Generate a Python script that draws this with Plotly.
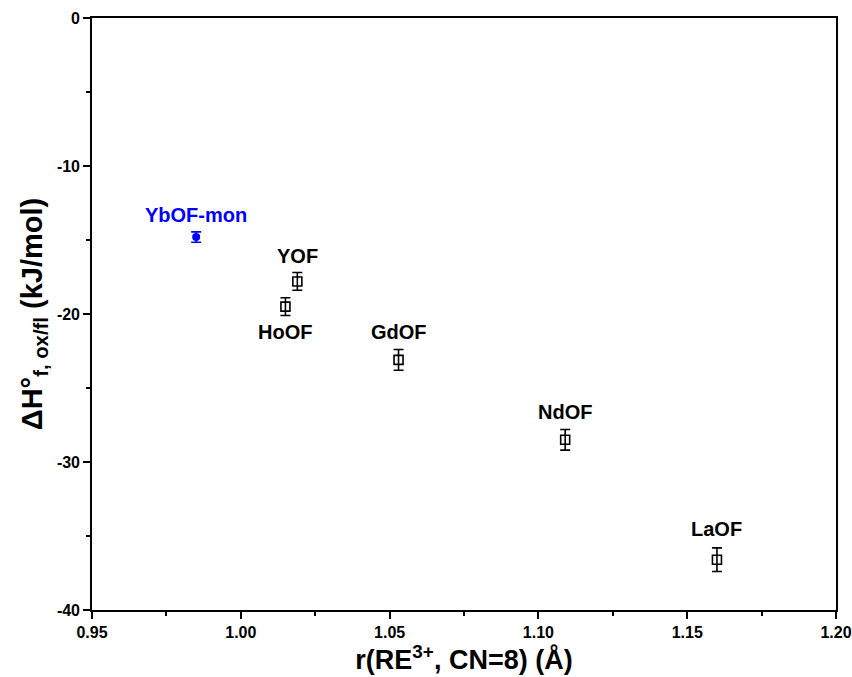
import plotly.graph_objects as go

names = ["YOF", "HoOF", "GdOF", "NdOF", "LaOF"]
radius = [1.019, 1.015, 1.053, 1.109, 1.160]
dH = [-17.8, -19.5, -23.1, -28.5, -36.6]
err = [0.6, 0.6, 0.7, 0.7, 0.8]
label_pos = ["above", "below", "above", "above", "above"]

mon_name = "YbOF-mon"
mon_radius = [0.985]
mon_dH = [-14.8]
mon_err = [0.35]

x_ticks = [0.95, 1.00, 1.05, 1.10, 1.15, 1.20]
y_ticks = [0, -10, -20, -30, -40]

FONT = "Liberation Sans, Arial, sans-serif"

fig = go.Figure()
fig.add_trace(go.Scatter(
    x=radius, y=dH, mode="markers",
    marker=dict(symbol="square-open", size=9, color="black", line=dict(width=1.6)),
    error_y=dict(type="data", array=err, color="black", thickness=1.6, width=5),
    showlegend=False,
))
fig.add_trace(go.Scatter(
    x=mon_radius, y=mon_dH, mode="markers",
    marker=dict(symbol="circle", size=8, color="#0000ff"),
    error_y=dict(type="data", array=mon_err, color="#0000ff", thickness=1.6, width=5),
    showlegend=False,
))

for n, xv, yv, e, p in zip(names, radius, dH, err, label_pos):
    fig.add_annotation(x=xv, y=yv, text="<b>" + n + "</b>", showarrow=False,
                       yshift=(25 + (e - 0.6) * 30) if p == "above" else -25,
                       font=dict(family=FONT, size=20, color="black"))
fig.add_annotation(x=mon_radius[0], y=mon_dH[0], text="<b>" + mon_name + "</b>", showarrow=False,
                   yshift=22, font=dict(family=FONT, size=20, color="#0000ff"))

fig.update_layout(
    width=852, height=677,
    margin=dict(l=92, r=16, t=18, b=67),
    plot_bgcolor="white", paper_bgcolor="white",
    font=dict(family=FONT, size=16, color="black"),
)
fig.update_xaxes(
    range=[0.95, 1.20], tickvals=x_ticks,
    ticktext=["<b>%.2f</b>" % v for v in x_ticks],
    ticks="outside", ticklen=7, tickwidth=1.6, tickcolor="black",
    minor=dict(ticks="outside", ticklen=4, tickwidth=1.6, tickcolor="black", dtick=0.025),
    showline=True, linecolor="black", linewidth=1.6, mirror=True,
    showgrid=False, zeroline=False, automargin=False,
    title=dict(text="<b>r(RE<sup>3+</sup>, CN=8) (Å)</b>", font=dict(size=27), standoff=2),
    tickfont=dict(size=16, weight="bold"),
)
fig.update_yaxes(
    range=[-40, 0], tickvals=y_ticks,
    ticktext=["<b>%d</b>" % v for v in y_ticks],
    ticks="outside", ticklen=7, tickwidth=1.6, tickcolor="black",
    minor=dict(ticks="outside", ticklen=4, tickwidth=1.6, tickcolor="black", dtick=5),
    showline=True, linecolor="black", linewidth=1.6, mirror=True,
    showgrid=False, zeroline=False, automargin=False,
    title=dict(text="<b>ΔH°<sub>f, ox/fl</sub> (kJ/mol)</b>", font=dict(size=29), standoff=6),
    tickfont=dict(size=16, weight="bold"),
)

fig.write_html("out.html")
